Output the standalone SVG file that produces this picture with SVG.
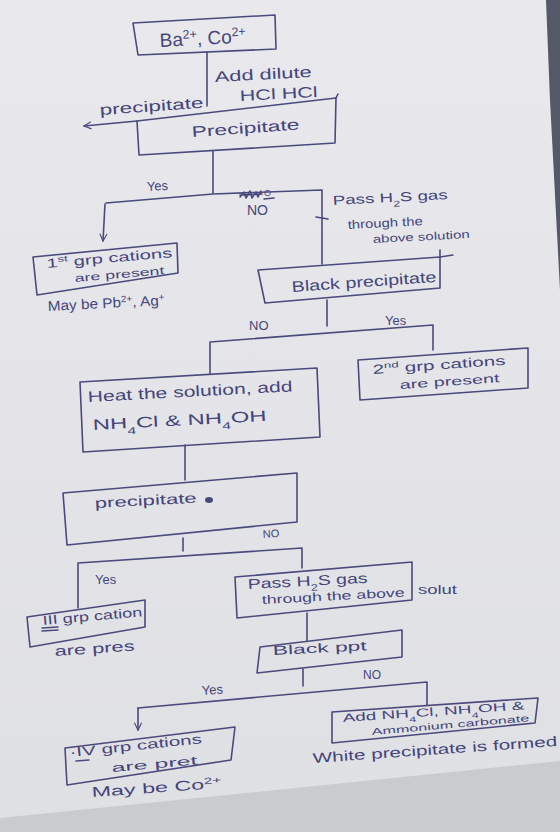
<svg xmlns="http://www.w3.org/2000/svg" width="560" height="832" viewBox="0 0 560 832">
<defs>
<linearGradient id="paper" x1="0" y1="0" x2="0" y2="1">
<stop offset="0" stop-color="#e8e8ed"/>
<stop offset="1" stop-color="#dfe0e4"/>
</linearGradient>
<marker id="open" viewBox="0 0 10 10" refX="9" refY="5" markerWidth="9" markerHeight="9" markerUnits="userSpaceOnUse" orient="auto">
<path d="M1,1 L9,5 L1,9" fill="none" stroke="#4a4a7c" stroke-width="1.3"/>
</marker>
</defs>
<style>
.ink{fill:none;stroke:#4a4a7c;stroke-width:1.6;stroke-linecap:round;stroke-linejoin:round}
.box{fill:none;stroke:#4a4a7c;stroke-width:1.6;stroke-linejoin:round}
text{font-family:"Liberation Sans","DejaVu Sans",sans-serif;fill:#45457a}
.s{font-size:65%}
</style>
<rect x="0" y="0" width="560" height="832" fill="url(#paper)"/>
<polygon points="0,818 560,761 560,832 0,832" fill="#c9cbcf"/>
<polygon points="546,0 560,0 560,290 557,233 550,100" fill="#555866"/>

<g id="connectors">
<path class="ink" d="M207,52 L207,106"/>
<path class="ink" d="M137,121 L84,126" marker-end="url(#open)"/>
<path class="ink" d="M213,151 L213,193"/>
<path class="ink" d="M106,203 L213,194 L322,190 L322,264"/>
<path class="ink" d="M316,217 L328,219"/>
<path class="ink" d="M105,204 L103,241" marker-end="url(#open)"/>
<path class="ink" d="M327,300 L327,326"/>
<path class="ink" d="M210,374 L210,342 L433,325 L433,350"/>
<path class="ink" d="M185,445 L185,480"/>
<path class="ink" d="M183,538 L183,551"/>
<path class="ink" d="M78,608 L78,563 L302,548 L302,568"/>
<path class="ink" d="M307,613 L307,641"/>
<path class="ink" d="M303,669 L303,686"/>
<path class="ink" d="M138,708 L427,682 L427,705"/>
<path class="ink" d="M138,708 L138,730" marker-end="url(#open)"/>
<path class="ink" d="M240,197 l4,-5 l2,6 l4,-7 l2,7 l4,-6 l2,5 l3,-6 M240,195 l22,-1 M264,199 l10,-1" stroke-width="1.4"/>
<text x="215" y="82" font-size="15" textLength="97" lengthAdjust="spacingAndGlyphs" transform="rotate(-3 215 82)">Add dilute</text>
<text x="240" y="101" font-size="15" textLength="78" lengthAdjust="spacingAndGlyphs" transform="rotate(-3 240 101)">HCl HCl</text>
<text x="100" y="115" font-size="15" textLength="104" lengthAdjust="spacingAndGlyphs" transform="rotate(-4 100 115)">precipitate</text>
<text x="147" y="191" font-size="13" transform="rotate(-3 147 191)">Yes</text>
<text x="264" y="196" font-size="9">O</text>
<text x="247" y="215" font-size="14">NO</text>
<text x="333" y="205" font-size="13" textLength="115" lengthAdjust="spacingAndGlyphs" transform="rotate(-3 333 205)">Pass H<tspan class="s" baseline-shift="sub">2</tspan>S gas</text>
<text x="348" y="229" font-size="12" textLength="75" lengthAdjust="spacingAndGlyphs" transform="rotate(-3 348 229)">through the</text>
<text x="373" y="243" font-size="11" textLength="97" lengthAdjust="spacingAndGlyphs" transform="rotate(-3 373 243)">above solution</text>
<text x="249" y="330" font-size="13">NO</text>
<text x="385" y="325" font-size="13">Yes</text>
<text x="263" y="538" font-size="11" transform="rotate(-4 263 538)">NO</text>
<text x="95" y="584" font-size="13">Yes</text>
<text x="363" y="679" font-size="12">NO</text>
<text x="202" y="695" font-size="13" transform="rotate(-4 202 695)">Yes</text>
</g>

<g id="n1">
<polygon class="box" points="133,23 275,15 276,49 138,55"/>
<text x="160" y="47" font-size="19" transform="rotate(-3 160 47)">Ba<tspan class="s" baseline-shift="super">2+</tspan>, Co<tspan class="s" baseline-shift="super">2+</tspan></text>
</g>

<g id="n2">
<polygon class="box" points="137,121 336,98 335,143 139,155"/>
<path class="ink" d="M336,98 L338,94"/>
<text x="192" y="137" font-size="15" textLength="108" lengthAdjust="spacingAndGlyphs" transform="rotate(-4 192 137)">Precipitate</text>
</g>

<g id="n3">
<polygon class="box" points="33,257 177,243 178,273 37,295"/>
<text x="47" y="268" font-size="13" textLength="126" lengthAdjust="spacingAndGlyphs" transform="rotate(-5 47 268)">1<tspan class="s" baseline-shift="super">st</tspan> grp cations</text>
<text x="75" y="282" font-size="11" textLength="90" lengthAdjust="spacingAndGlyphs" transform="rotate(-5 75 282)">are present</text>
<text x="48" y="311" font-size="14" textLength="117" lengthAdjust="spacingAndGlyphs" transform="rotate(-3 48 311)">May be Pb<tspan class="s" baseline-shift="super">2+</tspan>, Ag<tspan class="s" baseline-shift="super">+</tspan></text>
</g>

<g id="n4">
<polygon class="box" points="258,270 440,257 440,288 265,303"/>
<path class="ink" d="M440,257 L453,255 M440,257 L440,250"/>
<text x="292" y="292" font-size="15" textLength="145" lengthAdjust="spacingAndGlyphs" transform="rotate(-4 292 292)">Black precipitate</text>
</g>

<g id="n5">
<polygon class="box" points="358,360 528,348 528,388 360,400"/>
<text x="373" y="374" font-size="13" textLength="133" lengthAdjust="spacingAndGlyphs" transform="rotate(-4 373 374)">2<tspan class="s" baseline-shift="super">nd</tspan> grp cations</text>
<text x="400" y="389" font-size="12" textLength="100" lengthAdjust="spacingAndGlyphs" transform="rotate(-4 400 389)">are present</text>
</g>

<g id="n6">
<polygon class="box" points="80,382 317,368 320,437 83,452"/>
<text x="88" y="402" font-size="15" textLength="205" lengthAdjust="spacingAndGlyphs" transform="rotate(-3 88 402)">Heat the solution, add</text>
<text x="93" y="430" font-size="15" textLength="174" lengthAdjust="spacingAndGlyphs" transform="rotate(-3 93 430)">NH<tspan class="s" baseline-shift="sub">4</tspan>Cl &amp; NH<tspan class="s" baseline-shift="sub">4</tspan>OH</text>
</g>

<g id="n7">
<polygon class="box" points="63,493 297,473 297,522 67,545"/>
<text x="95" y="508" font-size="14" textLength="102" lengthAdjust="spacingAndGlyphs" transform="rotate(-3 95 508)">precipitate</text>
<ellipse cx="209" cy="500" rx="4" ry="3" fill="#4a4a7c"/>
</g>

<g id="n8">
<polygon class="box" points="27,617 145,600 145,627 30,647"/>
<text x="43" y="625" font-size="13" textLength="100" lengthAdjust="spacingAndGlyphs" transform="rotate(-5 43 625)">III grp cation</text>
<path class="ink" d="M42,628 L58,627 M42,631 L58,630" stroke-width="1.2"/>
<text x="55" y="656" font-size="14" textLength="80" lengthAdjust="spacingAndGlyphs" transform="rotate(-4 55 656)">are pres</text>
</g>

<g id="n9">
<polygon class="box" points="235,577 412,562 412,600 237,618"/>
<text x="248" y="589" font-size="14" textLength="120" lengthAdjust="spacingAndGlyphs" transform="rotate(-3 248 589)">Pass H<tspan class="s" baseline-shift="sub">2</tspan>S gas</text>
<text x="262" y="604" font-size="12" textLength="143" lengthAdjust="spacingAndGlyphs" transform="rotate(-3 262 604)">through the above</text>
<text x="418" y="594" font-size="12" textLength="39" lengthAdjust="spacingAndGlyphs">solut</text>
</g>

<g id="n10">
<polygon class="box" points="260,647 402,630 402,657 257,673"/>
<text x="273" y="655" font-size="13" textLength="94" lengthAdjust="spacingAndGlyphs" transform="rotate(-3 273 655)">Black ppt</text>
</g>

<g id="n11">
<polygon class="box" points="65,748 235,727 231,760 67,785"/>
<text x="70" y="757" font-size="13" textLength="133" lengthAdjust="spacingAndGlyphs" transform="rotate(-6 70 757)">·IV grp cations</text>
<path class="ink" d="M76,761 L89,760" stroke-width="1.2"/>
<text x="112" y="772" font-size="12" textLength="86" lengthAdjust="spacingAndGlyphs" transform="rotate(-5 112 772)">are pret</text>
<text x="92" y="797" font-size="14" textLength="130" lengthAdjust="spacingAndGlyphs" transform="rotate(-4 92 797)">May be Co<tspan class="s" baseline-shift="super">2+</tspan></text>
</g>

<g id="n12">
<polygon class="box" points="332,712 538,698 535,723 332,743"/>
<text x="343" y="722" font-size="11.5" textLength="182" lengthAdjust="spacingAndGlyphs" transform="rotate(-4 343 722)">Add NH<tspan class="s" baseline-shift="sub">4</tspan>Cl, NH<tspan class="s" baseline-shift="sub">4</tspan>OH &amp;</text>
<text x="372" y="735" font-size="9.5" textLength="158" lengthAdjust="spacingAndGlyphs" transform="rotate(-5 372 735)">Ammonium carbonate</text>
<text x="313" y="763" font-size="14" textLength="245" lengthAdjust="spacingAndGlyphs" transform="rotate(-4 313 763)">White precipitate is formed</text>
</g>
</svg>
